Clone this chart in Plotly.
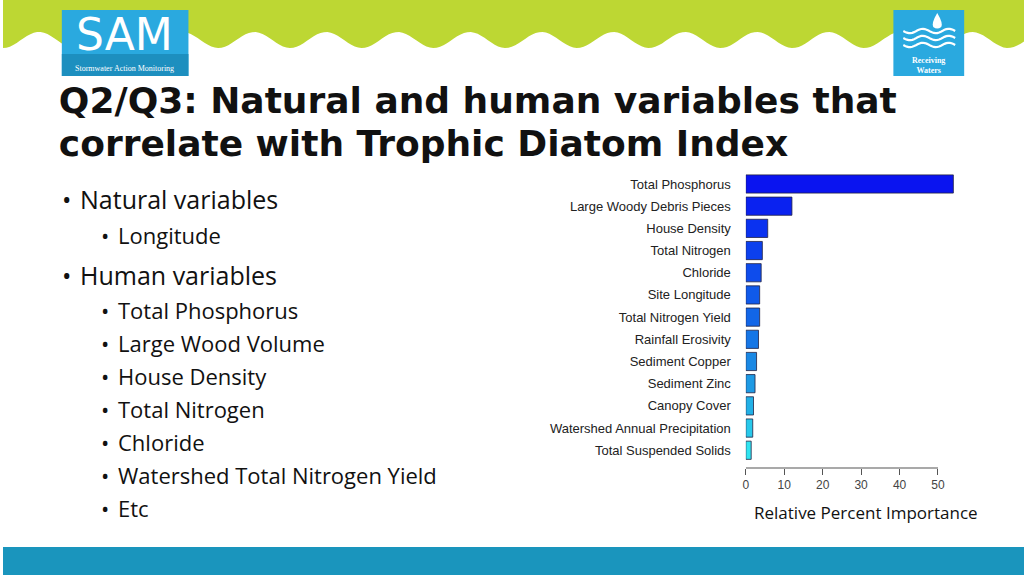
import numpy as np
import plotly.graph_objects as go

W, H = 1024, 575
categories = ["Total Phosphorus", "Large Woody Debris Pieces", "House Density", "Total Nitrogen",
              "Chloride", "Site Longitude", "Total Nitrogen Yield", "Rainfall Erosivity",
              "Sediment Copper", "Sediment Zinc", "Canopy Cover",
              "Watershed Annual Precipitation", "Total Suspended Solids"]
values = [54, 12, 5.7, 4.3, 4.0, 3.6, 3.6, 3.3, 2.8, 2.4, 2.0, 1.8, 1.4]
colors = ["#0a14f0", "#0a22f0", "#0a32f0", "#0c40ee", "#0e4cec", "#105aea", "#1266e8",
          "#1676e6", "#1a88e4", "#1e9ae4", "#22b0e6", "#28c8ea", "#30e4f0"]
tick_vals = [0, 10, 20, 30, 40, 50]
bullets = [(1, "Natural variables"), (2, "Longitude"), (1, "Human variables"),
           (2, "Total Phosphorus"), (2, "Large Wood Volume"), (2, "House Density"),
           (2, "Total Nitrogen"), (2, "Chloride"), (2, "Watershed Total Nitrogen Yield"), (2, "Etc")]
bullet_y = [199, 235, 275, 310, 343, 376, 409, 442, 475, 508]

def px(x): return x / W
def py(y): return 1 - y / H

n = len(categories)
ypos = list(range(n - 1, -1, -1))
fig = go.Figure()
fig.add_trace(go.Bar(x=values, y=ypos, orientation="h", width=0.82,
                     marker=dict(color=colors, line=dict(color="#222244", width=0.8)),
                     xaxis="x", yaxis="y", showlegend=False, hoverinfo="skip"))

fig.add_trace(go.Scatter(x=[56, 56], y=[104, 147], mode="text",
                         text=["<b>Q2/Q3: Natural and human variables that</b>",
                               "<b>correlate with Trophic Diatom Index</b>"],
                         textposition="middle right",
                         textfont=dict(family="DejaVu Sans", size=36, color="#111111"),
                         xaxis="x2", yaxis="y2", showlegend=False, hoverinfo="skip"))

x0, x1 = 745, 957
fig.update_layout(
    width=W, height=H, margin=dict(l=0, r=0, t=0, b=0),
    paper_bgcolor="white", plot_bgcolor="rgba(0,0,0,0)",
    xaxis=dict(domain=[px(x0), px(x1)], range=[0, 55], tickvals=tick_vals, ticks="outside",
               ticklen=6, tickcolor="#555", showline=False, showgrid=False, zeroline=False,
               tickfont=dict(family="Liberation Sans", size=12, color="#444")),
    yaxis=dict(domain=[py(468), py(174)], range=[-0.8, 12.45], tickvals=ypos, ticktext=categories,
               showgrid=False, zeroline=False, ticks="", ticklabelstandoff=14,
               tickfont=dict(family="Liberation Sans", size=13, color="#222")),
    xaxis2=dict(domain=[0, 1], range=[0, W], visible=False, fixedrange=True, anchor="y2"),
    yaxis2=dict(domain=[0, 1], range=[H, 0], visible=False, fixedrange=True, anchor="x2"),
)

xs = np.linspace(0, W, 300)
ys = 40 + 8 * np.cos(2 * np.pi * (xs - 72) / 72)
path = "M 0,1 L " + " L ".join(f"{px(a):.4f},{py(b):.4f}" for a, b in zip(xs, ys)) + " L 1,1 Z"
shapes = [dict(type="path", path=path, xref="paper", yref="paper", fillcolor="#bdd733", line=dict(width=0), layer="below"),
          dict(type="rect", xref="paper", yref="paper", x0=0, x1=1, y0=0, y1=py(547), fillcolor="#1a95bd", line=dict(width=0)),
          dict(type="rect", xref="paper", yref="paper", x0=px(59), x1=px(186), y0=py(76), y1=py(10), fillcolor="#2aa9df", line=dict(width=0)),
          dict(type="rect", xref="paper", yref="paper", x0=px(59), x1=px(186), y0=py(76), y1=py(54), fillcolor="#1d8fbf", line=dict(width=0)),
          dict(type="rect", xref="paper", yref="paper", x0=px(893), x1=px(964), y0=py(76), y1=py(10), fillcolor="#2aa9df", line=dict(width=0)),
          dict(type="rect", xref="paper", yref="paper", x0=px(540), x1=px(1000), y0=py(172), y1=py(165.5), fillcolor="white", line=dict(width=0), layer="above"),
          dict(type="line", xref="x", yref="paper", x0=0, x1=50, y0=py(468), y1=py(468), line=dict(color="#555", width=1.2))]
for k in range(3):
    wx = np.linspace(903, 955, 30)
    wy = 31 + k * 7 + 2.2 * np.sin(2 * np.pi * (wx - 903) / 26)
    shapes.append(dict(type="path", xref="paper", yref="paper",
                       path="M " + " L ".join(f"{px(a):.4f},{py(b):.4f}" for a, b in zip(wx, wy)),
                       line=dict(color="white", width=2.2)))
shapes.append(dict(type="path", xref="paper", yref="paper",
                   path=f"M {px(937)},{py(13)} Q {px(943)},{py(23)} {px(941)},{py(27)} Q {px(937)},{py(30)} {px(933)},{py(27)} Q {px(931)},{py(23)} {px(937)},{py(13)} Z",
                   fillcolor="white", line=dict(width=0)))
fig.update_layout(shapes=shapes)

ann = [dict(x=px(122), y=py(34), text="SAM", font=dict(family="DejaVu Sans ExtraLight, DejaVu Sans", size=44, color="white")),
       dict(x=px(122), y=py(68), text="Stormwater Action Monitoring", font=dict(family="Liberation Sans Narrow", size=8, color="white")),
       dict(x=px(928), y=py(66), text="<b>Receiving<br>Waters</b>", font=dict(family="Liberation Sans Narrow", size=8, color="white")),
       dict(x=px(866), y=py(512), text="Relative Percent Importance", font=dict(family="Open Sans", size=17, color="#111"))]
for (lvl, t), yy in zip(bullets, bullet_y):
    bx = 58 if lvl == 1 else 97
    tx = 76 if lvl == 1 else 114
    fs = 25 if lvl == 1 else 22
    ann.append(dict(x=px(bx), y=py(yy), text="•", xanchor="left", font=dict(family="Open Sans", size=fs, color="#111")))
    ann.append(dict(x=px(tx), y=py(yy), text=t, xanchor="left", font=dict(family="Open Sans", size=fs, color="#111")))
for a in ann:
    a.setdefault("xanchor", "center")
    a.update(xref="paper", yref="paper", yanchor="middle", showarrow=False, borderpad=0)
fig.update_layout(annotations=ann)
fig.write_html("out.html", config={"displayModeBar": False},
               post_script="document.documentElement.style.margin='0';document.body.style.margin='0';document.body.style.padding='0';document.body.style.overflow='hidden';")
